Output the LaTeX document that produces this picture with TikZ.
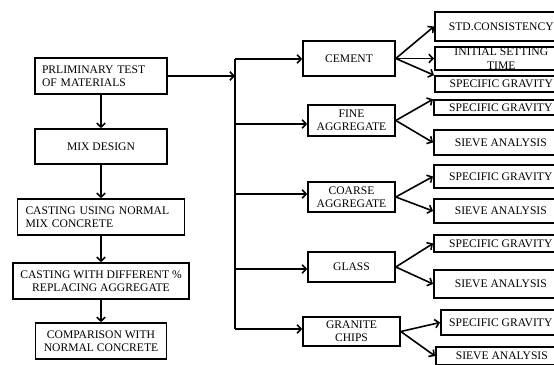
\documentclass[tikz,border=0pt]{standalone}
\usepackage{fontspec}
\setmainfont{Liberation Serif}
\usepackage{tikz}
\usetikzlibrary{arrows.meta}

\begin{document}
\begin{tikzpicture}[->,>={Straight Barb[length=4pt,width=8.5pt]},x=1pt,y=-1pt,line width=1.6pt,
	box/.style={draw,rectangle,inner sep=0pt,align=center,font=\fontsize{11.6}{13}\selectfont},
	test node/.style={box,anchor=west,minimum width=134pt}]
	
	\clip (0,0) rectangle (554,364);
	
	% left column
	\node[box,minimum width=132pt,minimum height=36pt,text width=118pt,align=left] (prelim) at (101,76) {PRLIMINARY TEST\\OF MATERIALS};
	\node[box,minimum width=132pt,minimum height=35pt] (mix) at (101,146.5) {MIX DESIGN};
	\node[box,minimum width=167pt,minimum height=36pt,text width=151pt,align=left] (normal) at (101,217) {CASTING USING NORMAL\\MIX CONCRETE};
	\node[box,minimum width=176pt,minimum height=36pt] (diff) at (101,281) {CASTING WITH DIFFERENT \%\\REPLACING AGGREGATE};
	\node[box,minimum width=131pt,minimum height=36pt] (compare) at (101,341) {COMPARISON WITH\\NORMAL CONCRETE};
	
	% materials
	\node[box,minimum width=92pt,minimum height=35pt] (cement) at (349,58.5) {CEMENT};
	\node[box,minimum width=87pt,minimum height=31pt] (fine) at (351.5,120.5) {FINE\\AGGREGATE};
	\node[box,minimum width=87pt,minimum height=30pt] (coarse) at (351.5,197) {COARSE\\AGGREGATE};
	\node[box,minimum width=87pt,minimum height=30pt] (glass) at (351.5,267) {GLASS};
	\node[box,minimum width=97pt,minimum height=29pt] (granite) at (351.5,331.5) {GRANITE\\CHIPS};
	
	% tests
	\node[test node,minimum width=133pt,minimum height=29pt] (std) at (434,26.5) {STD.CONSISTENCY};
	\node[test node,minimum width=133pt,minimum height=23pt,font=\fontsize{11.6}{13.5}\selectfont] (initial) at (434,58.5) {INITIAL SETTING\\TIME};
	\node[test node,minimum width=133pt,minimum height=16pt] (sgcement) at (434,84) {SPECIFIC GRAVITY};
	\node[test node,minimum height=15pt] (sgfine) at (433,107.5) {SPECIFIC GRAVITY};
	\node[test node,minimum height=25pt] (safine) at (433,142.5) {SIEVE ANALYSIS};
	\node[test node,minimum height=23pt] (sgcoarse) at (433,176.5) {SPECIFIC GRAVITY};
	\node[test node,minimum height=24pt] (sacoarse) at (433,211) {SIEVE ANALYSIS};
	\node[test node,minimum height=17pt] (sgglass) at (433,243.5) {SPECIFIC GRAVITY};
	\node[test node,minimum height=28pt] (saglass) at (433,284) {SIEVE ANALYSIS};
	\node[test node,minimum width=120pt,minimum height=25pt] (sggranite) at (440,322.5) {SPECIFIC GRAVITY};
	\node[test node,minimum width=132pt,minimum height=18pt] (sagranite) at (435,356) {SIEVE ANALYSIS};
	
	\coordinate (bustop) at (235,59);
	\coordinate (busbot) at (235,329);
	
	\path
	(prelim) edge (mix)
	(mix) edge (normal)
	(normal) edge (diff)
	(diff) edge (compare);
	
	\draw (prelim.east) -- (prelim.east -| bustop);
	\draw[-] (bustop) -- (busbot);
	\draw (bustop) -- (bustop -| cement.west);
	\draw (bustop |- 0,124) -- (fine.west |- 0,124);
	\draw (bustop |- 0,194) -- (coarse.west |- 0,194);
	\draw (bustop |- 0,269) -- (glass.west |- 0,269);
	\draw (busbot) -- (busbot -| granite.west);
	
	\path
	(cement.east) edge (std.west)
	(cement.east) edge (initial.west)
	(cement.east) edge (sgcement.north west)
	(fine.east) edge (sgfine.north west)
	(fine.east) edge (safine.west)
	(coarse.east) edge (sgcoarse.west)
	(coarse.east) edge (sacoarse.west)
	(glass.east) edge (sgglass.west)
	(glass.east) edge (saglass.west)
	(granite.east) edge (sggranite.west)
	(granite.east) edge (sagranite.west);
	\end{tikzpicture}
\end{document}
